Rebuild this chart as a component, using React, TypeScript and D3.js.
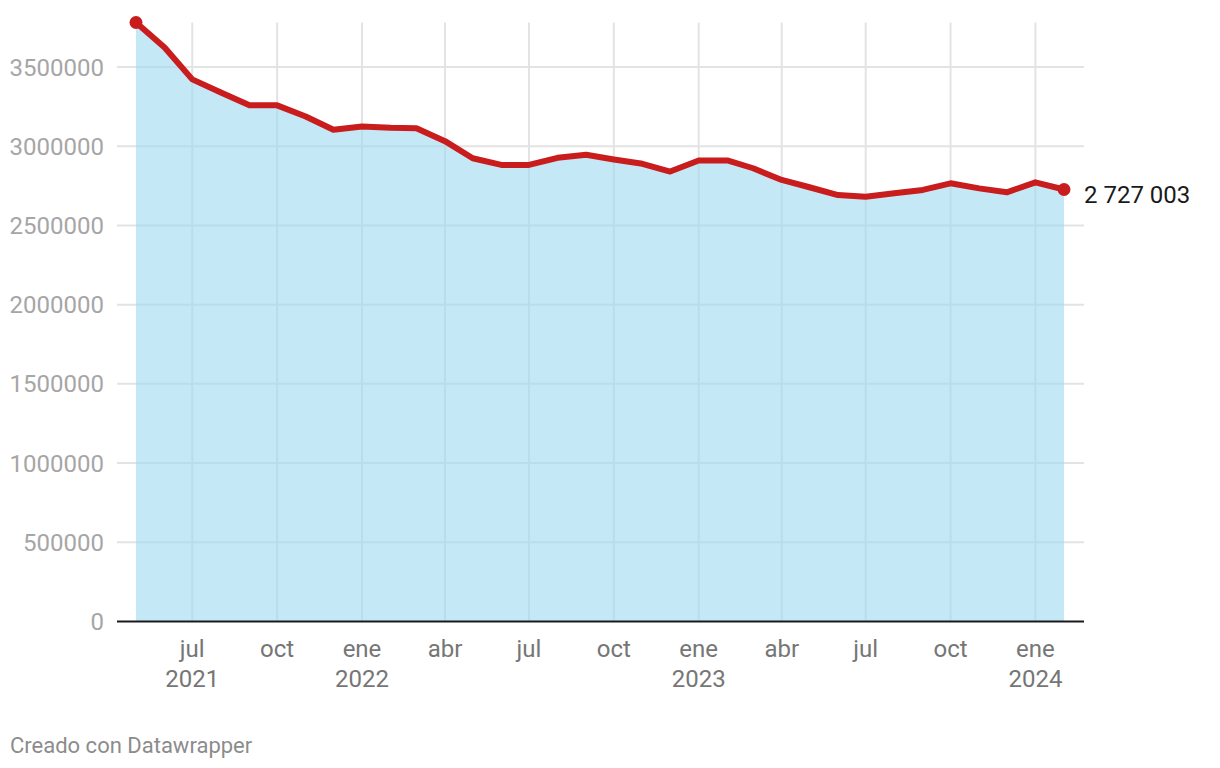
import React from "react";
import * as d3 from "d3";

const months: string[] = [
  "2021-05", "2021-06", "2021-07", "2021-08", "2021-09", "2021-10", "2021-11", "2021-12",
  "2022-01", "2022-02", "2022-03", "2022-04", "2022-05", "2022-06", "2022-07", "2022-08",
  "2022-09", "2022-10", "2022-11", "2022-12", "2023-01", "2023-02", "2023-03", "2023-04",
  "2023-05", "2023-06", "2023-07", "2023-08", "2023-09", "2023-10", "2023-11", "2023-12",
  "2024-01", "2024-02",
];
const values: number[] = [
  3781000, 3623000, 3422000, 3339000, 3258000, 3258000, 3188000, 3104000,
  3125000, 3116000, 3114000, 3032000, 2924000, 2882000, 2882000, 2927000,
  2946000, 2916000, 2889000, 2840000, 2910000, 2910000, 2861000, 2787000,
  2741000, 2692000, 2681000, 2703000, 2724000, 2766000, 2734000, 2709000,
  2772000, 2727003,
];
const yTicks: number[] = [0, 500000, 1000000, 1500000, 2000000, 2500000, 3000000, 3500000];
const xTicks: string[] = [
  "2021-07", "2021-10", "2022-01", "2022-04", "2022-07", "2022-10",
  "2023-01", "2023-04", "2023-07", "2023-10", "2024-01",
];
const monthNames: string[] = ["ene", "feb", "mar", "abr", "may", "jun", "jul", "ago", "sep", "oct", "nov", "dic"];
const lastLabel = "2 727 003";
const credit = "Creado con Datawrapper";

const parse = d3.timeParse("%Y-%m");
const data = months.map((m, i) => ({ date: parse(m) as Date, value: values[i] }));

export default function App() {
  const W = 1220, H = 768;
  const x = d3.scaleTime()
    .domain([data[0].date, data[data.length - 1].date])
    .range([136, 1064]);
  const y = d3.scaleLinear()
    .domain([0, d3.max(values) as number])
    .range([621.5, 22.5]);
  const gridLeft = 117, gridRight = 1084;
  const area = d3.area<{ date: Date; value: number }>()
    .x(d => x(d.date)).y0(y(0)).y1(d => y(d.value));
  const line = d3.line<{ date: Date; value: number }>()
    .x(d => x(d.date)).y(d => y(d.value));
  const first = data[0], last = data[data.length - 1];
  const font = "Roboto, 'Noto Sans', sans-serif";
  const tickDates = xTicks.map(t => parse(t) as Date);
  return (
    <svg width={W} height={H} style={{ position: "absolute", left: 0, top: 0, background: "#fff" }}>
      {yTicks.filter(t => t > 0).map(t => (
        <line key={"h" + t} x1={gridLeft} x2={gridRight} y1={y(t)} y2={y(t)} stroke="#e3e3e3" strokeWidth={2} />
      ))}
      {tickDates.map((d, i) => (
        <line key={"v" + i} x1={x(d)} x2={x(d)} y1={y.range()[1]} y2={y(0)} stroke="#e3e3e3" strokeWidth={2} />
      ))}
      <path d={area(data) || ""} fill="rgb(158,217,242)" fillOpacity={0.6} />
      <line x1={gridLeft} x2={gridRight} y1={y(0)} y2={y(0)} stroke="#1a1a1a" strokeWidth={2} />
      {yTicks.map(t => (
        <text key={"yl" + t} x={104} y={y(t) + 8.5} textAnchor="end" fontFamily={font} fontSize={24} fill="#a6a6a6">
          {String(t)}
        </text>
      ))}
      {tickDates.map((d, i) => {
        const m = d.getMonth();
        const showYear = i === 0 || m === 0;
        return (
          <g key={"xl" + i}>
            <text x={x(d)} y={656.5} textAnchor="middle" fontFamily={font} fontSize={24} fill="#767676">
              {monthNames[m]}
            </text>
            {showYear && (
              <text x={x(d)} y={686.5} textAnchor="middle" fontFamily={font} fontSize={24} fill="#767676">
                {String(d.getFullYear())}
              </text>
            )}
          </g>
        );
      })}
      <path d={line(data) || ""} fill="none" stroke="#c91d1d" strokeWidth={6} strokeLinejoin="round" strokeLinecap="round" />
      <circle cx={x(first.date)} cy={y(first.value)} r={6.5} fill="#c91d1d" />
      <circle cx={x(last.date)} cy={y(last.value)} r={6.5} fill="#c91d1d" />
      <text x={x(last.date) + 20} y={y(last.value) + 14} fontFamily={font} fontSize={24} fill="#1a1a1a">
        {lastLabel}
      </text>
      <text x={10} y={752.5} fontFamily={font} fontSize={22} fill="#8c8c8c">{credit}</text>
    </svg>
  );
}
